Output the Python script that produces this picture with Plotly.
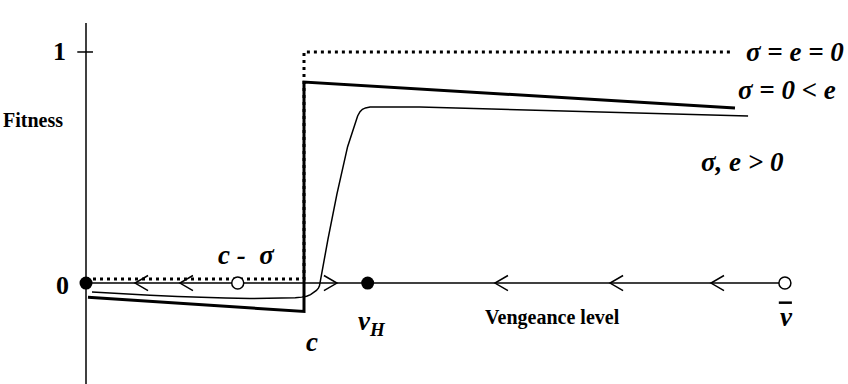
import plotly.graph_objects as go

# Key levels on the vengeance axis (units: c = 1)
C = 1.0
C_MINUS_SIGMA = 0.696
V_H = 1.292
V_BAR = 3.206

# sigma = e = 0 (dotted)
dot_x = [0.0, C, C, 2.963]
dot_y = [0.017, 0.017, 1.0, 1.0]

# sigma = 0 < e (thick)
thick_x = [0.009, C, C, 2.977]
thick_y = [-0.061, -0.123, 0.870, 0.758]

# sigma, e > 0 (thin)
thin_x = [0.0275, 0.150, 0.294, 0.420, 0.523, 0.640, 0.752, 0.840, 0.913, 0.960, 0.990, 1.012,
          1.030, 1.045, 1.057, 1.066, 1.071, 1.110, 1.151, 1.200, 1.232, 1.246, 1.257, 1.268,
          1.282, 1.303, 1.532, 3.037]
thin_y = [-0.039, -0.046, -0.053, -0.058, -0.062, -0.065, -0.067, -0.067, -0.066, -0.064, -0.061, -0.057,
          -0.050, -0.042, -0.032, -0.022, -0.012, 0.190, 0.385, 0.590, 0.690, 0.723, 0.742, 0.752,
          0.758, 0.762, 0.762, 0.723]

# direction arrows on the axis
left_arrows = [0.225, 0.431, 1.876, 2.404, 2.867]
right_arrows = [1.151]

# equilibrium points
stable_x = [0.0, V_H]
unstable_x = [C_MINUS_SIGMA, V_BAR]

X_RANGE = [-0.3945, 3.4954]
Y_RANGE = [-0.437, 1.225]
AW, AH = 0.0596, 0.0325  # chevron width/half-height in data units

fig = go.Figure()

# axes
fig.add_trace(go.Scatter(x=[0, 0, None, -0.04, 0.032, None, 0, V_BAR],
                         y=[Y_RANGE[0], 1.1255, None, 1, 1, None, 0, 0],
                         mode="lines", line=dict(color="black", width=1.5),
                         hoverinfo="skip", showlegend=False))

fig.add_trace(go.Scatter(x=dot_x, y=dot_y, mode="lines",
                         line=dict(color="black", width=3, dash="3px,4px"),
                         showlegend=False))
fig.add_trace(go.Scatter(x=thick_x, y=thick_y, mode="lines",
                         line=dict(color="black", width=3), showlegend=False))
fig.add_trace(go.Scatter(x=thin_x, y=thin_y, mode="lines",
                         line=dict(color="black", width=1.5),
                         showlegend=False))

# chevrons
cx, cy = [], []
for t in left_arrows:
    cx += [t + AW, t, t + AW, None]
    cy += [AH, 0, -AH, None]
for t in right_arrows:
    cx += [t - AW, t, t - AW, None]
    cy += [AH, 0, -AH, None]
fig.add_trace(go.Scatter(x=cx, y=cy, mode="lines",
                         line=dict(color="black", width=1.5), showlegend=False))

fig.add_trace(go.Scatter(x=stable_x, y=[0] * len(stable_x), mode="markers",
                         marker=dict(size=13, color="black"), showlegend=False))
fig.add_trace(go.Scatter(x=unstable_x, y=[0] * len(unstable_x), mode="markers",
                         marker=dict(size=12, color="white", line=dict(color="black", width=1.5)),
                         showlegend=False))

# overbar of v-bar label
fig.add_trace(go.Scatter(x=[V_BAR - 0.028, V_BAR + 0.032], y=[-0.085, -0.085], mode="lines",
                         line=dict(color="black", width=2.5), hoverinfo="skip", showlegend=False))

F = "Liberation Serif, Times New Roman, serif"
def ann(x, y, text, size, italic=True, xanchor="center"):
    t = "<b><i>" + text + "</i></b>" if italic else "<b>" + text + "</b>"
    fig.add_annotation(x=x, y=y, text=t, showarrow=False, xanchor=xanchor, yanchor="middle",
                       font=dict(family=F, size=size, color="black"))

ann(-0.083, 1.0, "1", 26, italic=False, xanchor="right")
ann(-0.070, -0.01, "0", 26, italic=False, xanchor="right")
ann(X_RANGE[0] + 0.004, 0.706, "Fitness", 20, italic=False, xanchor="left")
ann(3.020, 1.0, "σ = e = 0", 27, xanchor="left")
ann(2.983, 0.835, "σ = 0 &lt; e", 27, xanchor="left")
ann(2.814, 0.524, "σ, e &gt; 0", 27, xanchor="left")
ann(0.734, 0.121, "c -  σ", 27)
ann(1.037, -0.255, "c", 27)
ann(1.310, -0.175, "v<sub>H</sub>", 27)
ann(2.138, -0.147, "Vengeance level", 20, italic=False)
ann(3.212, -0.145, "v", 27)

fig.update_layout(width=848, height=384, margin=dict(l=0, r=0, t=0, b=0),
                  paper_bgcolor="white", plot_bgcolor="white",
                  xaxis=dict(range=X_RANGE, visible=False, fixedrange=True),
                  yaxis=dict(range=Y_RANGE, visible=False, fixedrange=True))

fig.write_html("out.html")
